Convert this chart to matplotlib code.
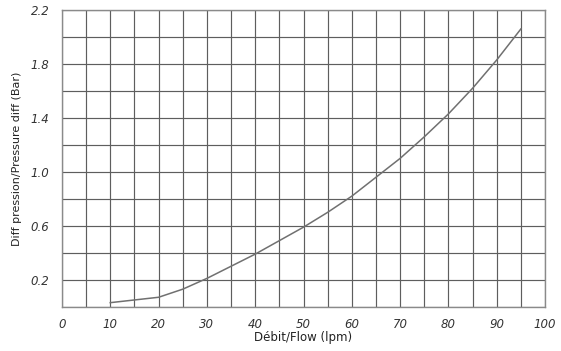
import numpy as np
import matplotlib
matplotlib.use('Agg')
import matplotlib.pyplot as plt
from matplotlib.ticker import MultipleLocator

# valeurs
debit = [10, 15, 20, 25, 30, 35, 40, 45, 50, 55, 60, 65, 70, 75, 80, 85, 90, 95]
pression = [0.03, 0.05, 0.07, 0.13, 0.21, 0.30, 0.39, 0.49, 0.59, 0.70,
            0.82, 0.96, 1.10, 1.26, 1.43, 1.62, 1.83, 2.06]

xticks = [0, 10, 20, 30, 40, 50, 60, 70, 80, 90, 100]
yticks = [0.2, 0.6, 1.0, 1.4, 1.8, 2.2]

fig = plt.figure(figsize=(5.61, 3.51), dpi=100)
ax = fig.add_axes([0.1105, 0.1262, 0.861, 0.845])

ax.plot(debit, pression, color='#707070', lw=1.1, zorder=3)

ax.set_xlim(0, 100)
ax.set_ylim(0, 2.2)
ax.set_xticks(xticks)
ax.set_yticks(yticks)
ax.set_xticklabels([str(v) for v in xticks], fontsize=8.5, style='italic', color='#333333')
ax.set_yticklabels(['%.1f' % v for v in yticks], fontsize=8.5, style='italic', color='#333333')
ax.xaxis.set_minor_locator(MultipleLocator(5))
ax.yaxis.set_minor_locator(MultipleLocator(0.2))
ax.grid(which='both', color='#5e5e5e', lw=0.85)
ax.tick_params(which='both', length=0)
ax.tick_params(axis='x', pad=8)
ax.tick_params(axis='y', pad=9)
for s in ax.spines.values():
    s.set_color('#8a8a8a')
    s.set_linewidth(1.0)

ax.set_xlabel('Débit/Flow (lpm)', fontsize=8.5, labelpad=0, color='#222222')
ax.set_ylabel('Diff pression/Pressure diff (Bar)', fontsize=8, labelpad=6, color='#222222')

plt.savefig('out.png', dpi=100)
